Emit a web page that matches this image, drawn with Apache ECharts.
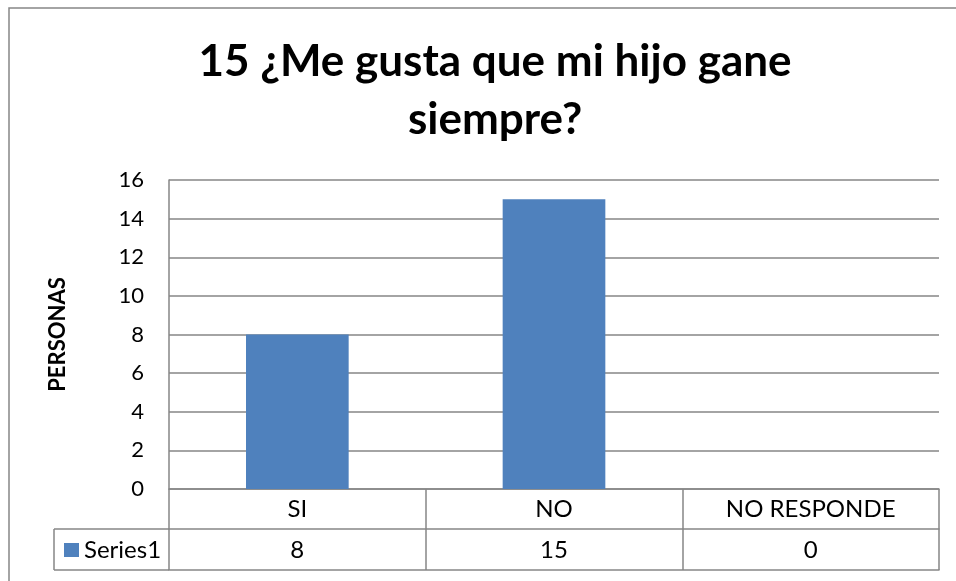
<!DOCTYPE html>
<html>
<head>
<meta charset="utf-8">
<title>15 ¿Me gusta que mi hijo gane siempre?</title>
<script src="https://cdn.jsdelivr.net/npm/echarts@6/dist/echarts.min.js"></script>
<style>
  html, body { margin: 0; padding: 0; background: #fff; }
  #chart { width: 956px; height: 581px; }
</style>
</head>
<body>
<div id="chart"></div>
<script>
// datos del gráfico
const categories = ['SI', 'NO', 'NO RESPONDE'];
const values = [8, 15, 0];
const seriesName = 'Series1';
const yTicks = { min: 0, max: 16, interval: 2 };

const gridColor = '#868686';
const font = 'Lato, Calibri, "Open Sans", sans-serif';

const myChart = echarts.init(document.getElementById('chart'));

const option = {
  animation: false,
  textStyle: { fontFamily: font, color: '#000' },
  title: {
    text: '15 ¿Me gusta que mi hijo gane\nsiempre?',
    left: 490,
    top: 28,
    textAlign: 'center',
    textStyle: { fontFamily: font, fontSize: 44, fontWeight: 'bold', lineHeight: 58, color: '#000' },
  },
  legend: {
    data: [seriesName],
    left: 59,
    top: 533,
    icon: 'rect',
    itemWidth: 15,
    itemHeight: 14,
    textStyle: { fontFamily: font, fontSize: 24, color: '#000' },
  },
  grid: { left: 169, right: 17, top: 180, bottom: 92 },
  xAxis: [
    {
      type: 'category',
      data: categories,
      axisLine: { lineStyle: { color: gridColor, width: 1.5 } },
      axisTick: { show: true, interval: 0, length: 81, lineStyle: { color: gridColor, width: 1.5 } },
      axisLabel: { margin: 8, fontSize: 24, color: '#000', interval: 0 },
    },
    {
      type: 'category',
      data: categories,
      position: 'bottom',
      offset: 40,
      axisLine: { lineStyle: { color: gridColor, width: 1.5 } },
      axisTick: { show: false },
      axisLabel: { margin: 9, fontSize: 24, color: '#000', interval: 0, formatter: (v, i) => String(values[i]) },
    },
    {
      type: 'category',
      data: categories,
      position: 'bottom',
      offset: 81,
      axisLine: { lineStyle: { color: gridColor, width: 1.5 } },
      axisTick: { show: false },
      axisLabel: { show: false },
    },
  ],
  yAxis: {
    type: 'value',
    min: yTicks.min,
    max: yTicks.max,
    interval: yTicks.interval,
    name: 'PERSONAS',
    nameLocation: 'middle',
    nameGap: 100,
    nameTextStyle: { fontFamily: font, fontSize: 22, fontWeight: 'bold', color: '#000' },
    axisLine: { show: true, lineStyle: { color: gridColor, width: 1.5 } },
    axisTick: { show: false },
    axisLabel: { margin: 25, fontSize: 22, color: '#000' },
    splitLine: { lineStyle: { color: gridColor, width: 1.5 } },
  },
  series: [{
    name: seriesName,
    type: 'bar',
    data: values,
    barWidth: '40%',
    itemStyle: { color: '#4F81BD' },
  }],
  graphic: [
    // marco exterior
    { type: 'rect', shape: { x: 9, y: 8, width: 960, height: 600 }, style: { fill: 'none', stroke: gridColor, lineWidth: 1.5 }, silent: true },
    // columna de leyenda de la tabla
    { type: 'line', shape: { x1: 54, y1: 529, x2: 169, y2: 529 }, style: { stroke: gridColor, lineWidth: 1.5 } },
    { type: 'line', shape: { x1: 54, y1: 570, x2: 169, y2: 570 }, style: { stroke: gridColor, lineWidth: 1.5 } },
    { type: 'line', shape: { x1: 54, y1: 529, x2: 54, y2: 570 }, style: { stroke: gridColor, lineWidth: 1.5 } },
  ],
};

myChart.setOption(option);
window.addEventListener('resize', () => {
  myChart.resize();
});
</script>
</body>
</html>
